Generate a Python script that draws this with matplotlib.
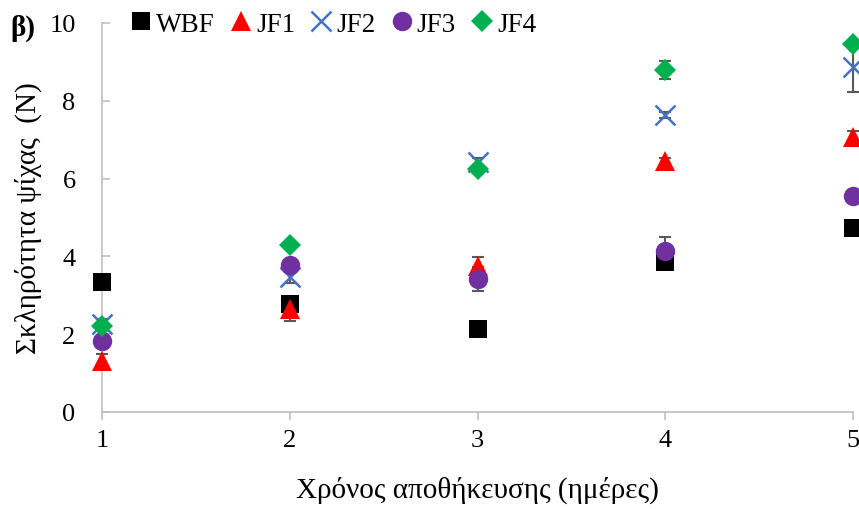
import matplotlib
matplotlib.use("Agg")
import matplotlib.pyplot as plt
from matplotlib.lines import Line2D

plt.rcParams['font.family'] = ['Liberation Serif', 'DejaVu Serif']

days = [1, 2, 3, 4, 5]

wbf = [3.34, 2.77, 2.13, 3.86, 4.73]
wbf_err = [0.08, 0.10, 0.08, 0.10, 0.08]

jf1 = [1.31, 2.65, 3.75, 6.45, 7.07]
jf1_err = [0.18, 0.30, 0.23, 0.08, 0.15]

jf2 = [2.26, 3.47, 6.43, 7.64, 8.87]
jf2_err = [0.12, 0.15, 0.10, 0.08, 0.64]

jf3 = [1.83, 3.78, 3.42, 4.14, 5.55]
jf3_err = [0.10, 0.10, 0.31, 0.36, 0.08]

jf4 = [2.21, 4.29, 6.25, 8.79, 9.46]
jf4_err = [0.08, 0.08, 0.08, 0.24, 0.08]

series = [
    ("WBF", wbf, wbf_err, "s", "#000000", 13, 0),
    ("JF1", jf1, jf1_err, "^", "#FF0000", 14, 0),
    ("JF2", jf2, jf2_err, "x", "#4472C4", 15, 1.8),
    ("JF3", jf3, jf3_err, "o", "#7030A0", 14, 0),
    ("JF4", jf4, jf4_err, "D", "#00B050", 11, 0),
]

fig = plt.figure(figsize=(8.59, 5.10), dpi=100)
ax = fig.add_axes([102 / 859, (510 - 413) / 510, (853 - 102) / 859, (413 - 24) / 510])

tick_fs = 19
label_fs = 21
legend_fs = 19.5

handles = []
for i, (name, vals, err, mk, col, ms, mew) in enumerate(series):
    # error bars stay beneath every marker
    ax.errorbar(days, vals, yerr=err, fmt="none", ecolor="#595959",
                elinewidth=1.5, capsize=4, capthick=1.5, clip_on=False,
                zorder=2)
    ax.plot(days, vals, linestyle="none", marker=mk, color=col, markersize=ms,
            markeredgewidth=mew, clip_on=False, zorder=3 + i * 0.1)
    handles.append(Line2D([], [], linestyle="none", marker=mk, color=col,
                          markersize=ms, markeredgewidth=mew, label=name))

ax.set_xlim(1, 5)
ax.set_ylim(0, 10)
ax.set_xticks(days)
ax.set_yticks([0, 2, 4, 6, 8, 10])

for side in ("top", "right"):
    ax.spines[side].set_visible(False)
for side in ("left", "bottom"):
    ax.spines[side].set_color("#BFBFBF")
    ax.spines[side].set_linewidth(1.2)

ax.tick_params(axis="x", direction="out", length=6, width=1.2, color="#BFBFBF",
               labelsize=tick_fs, pad=6)
ax.tick_params(axis="y", direction="in", length=6, width=1.2, color="#BFBFBF",
               labelsize=tick_fs, pad=19)

ax.set_xlabel("Χρόνος αποθήκευσης (ημέρες)", fontsize=label_fs, labelpad=18)
ax.set_ylabel("Σκληρότητα ψίχας  (N)", fontsize=label_fs, labelpad=5)

ax.legend(handles=handles, loc="upper left", bbox_to_anchor=(0.025, 1.057),
          ncol=5, frameon=False, fontsize=legend_fs, handlelength=0.7,
          handletextpad=0.2, columnspacing=0.62, borderaxespad=0)

fig.text(10 / 859, 1 - 36 / 510, "β)", fontsize=label_fs, fontweight="bold")

fig.savefig("out.png", dpi=100)
